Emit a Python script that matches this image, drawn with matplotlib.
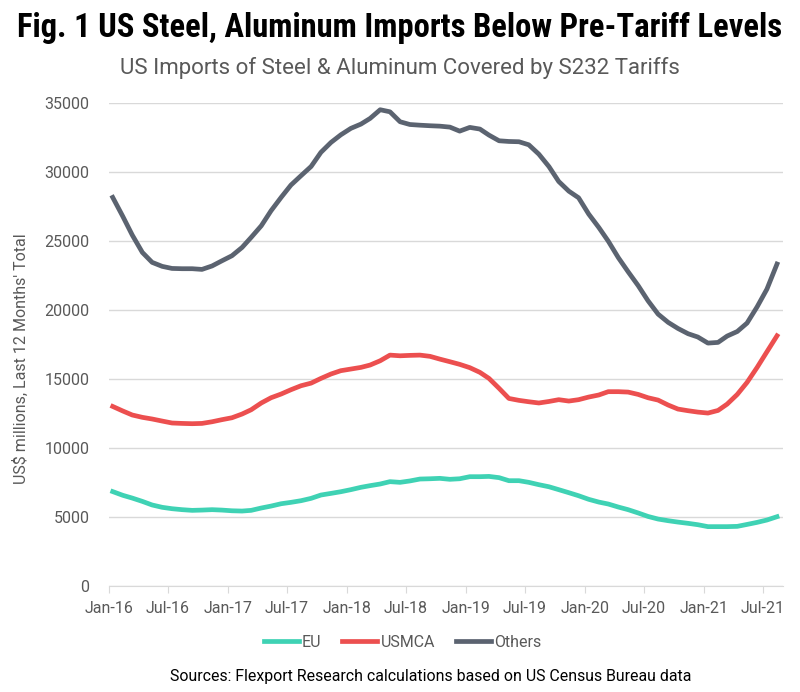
import matplotlib
matplotlib.use("Agg")
import matplotlib.pyplot as plt
import pandas as pd

# monthly values, Jan-16 .. Aug-21 (US$ millions, trailing 12 months)
eu = [6850, 6580, 6380, 6140, 5880, 5710, 5610, 5540, 5490, 5510, 5540, 5510,
      5460, 5440, 5490, 5660, 5800, 5970, 6070, 6190, 6360, 6600, 6720, 6840,
      6990, 7160, 7280, 7400, 7570, 7520, 7620, 7760, 7780, 7810, 7740, 7780,
      7930, 7930, 7950, 7860, 7640, 7640, 7520, 7350, 7200, 6990, 6770, 6550,
      6290, 6090, 5950, 5730, 5540, 5300, 5050, 4860, 4740, 4640, 4550, 4450,
      4310, 4310, 4310, 4330, 4470, 4620, 4790, 5030]
usmca = [13020, 12690, 12400, 12230, 12110, 11960, 11820, 11790, 11770, 11790, 11910, 12060,
         12200, 12470, 12780, 13270, 13650, 13920, 14230, 14520, 14710, 15050, 15370, 15610,
         15730, 15850, 16020, 16330, 16740, 16690, 16720, 16740, 16650, 16450, 16260, 16070,
         15830, 15490, 15050, 14330, 13600, 13460, 13360, 13270, 13380, 13510, 13410, 13510,
         13700, 13850, 14090, 14090, 14060, 13890, 13650, 13480, 13120, 12830, 12710, 12610,
         12540, 12730, 13190, 13890, 14760, 15850, 16980, 18140]
others = [28170, 26790, 25440, 24180, 23460, 23170, 23020, 23000, 23000, 22950, 23200, 23570,
          23940, 24540, 25270, 26110, 27200, 28170, 29060, 29740, 30410, 31430, 32150, 32700,
          33170, 33480, 33890, 34520, 34370, 33650, 33450, 33400, 33360, 33330, 33260, 32970,
          33240, 33120, 32680, 32270, 32220, 32200, 31980, 31300, 30400, 29320, 28620, 28140,
          26960, 25990, 25000, 23800, 22780, 21770, 20680, 19710, 19110, 18670, 18290, 18050,
          17610, 17660, 18120, 18450, 19060, 20240, 21520, 23340]

months = pd.date_range("2016-01-01", periods=len(eu), freq="MS") + pd.Timedelta(days=12)
tick_dates = pd.date_range("2016-01-01", "2021-07-01", freq="6MS")
tick_labels = [d.strftime("%b-%y") for d in tick_dates]

txt = "#595959"
plt.rcParams["font.family"] = ["Roboto", "DejaVu Sans"]

fig = plt.figure(figsize=(8, 6.92), dpi=100)
ax = fig.add_axes([0.136, 0.153, 0.843, 0.698])

ax.plot(months, eu, color="#3fd2b4", lw=3.4, label="EU")
ax.plot(months, usmca, color="#ec4f4f", lw=3.4, label="USMCA")
ax.plot(months, others, color="#5b6370", lw=3.4, label="Others")

ax.set_ylim(0, 35000)
ax.set_yticks(range(0, 35001, 5000))
ax.set_xlim(pd.Timestamp("2016-01-01"), pd.Timestamp("2021-09-01"))
ax.set_xticks(tick_dates)
ax.set_xticklabels(tick_labels)

ax.grid(axis="y", color="#d9d9d9", lw=1)
ax.set_axisbelow(True)
for s in ["top", "right", "left"]:
    ax.spines[s].set_visible(False)
ax.spines["bottom"].set_color("#d9d9d9")
ax.tick_params(axis="y", length=0, labelsize=11.5, labelcolor=txt, pad=14)
ax.tick_params(axis="x", length=5, color="#d9d9d9", labelsize=11.5, labelcolor=txt, pad=6)

ax.set_ylabel("US$ millions, Last 12 Months' Total", fontsize=11.5, color=txt)
ax.yaxis.set_label_coords(-0.118, 0.47)

fig.text(0.5, 0.96, "Fig. 1 US Steel, Aluminum Imports Below Pre-Tariff Levels",
         ha="center", va="center", fontsize=23.5, fontweight="bold", color="black",
         family=["Roboto Condensed", "Roboto", "DejaVu Sans"])
fig.text(0.5, 0.902, "US Imports of Steel & Aluminum Covered by S232 Tariffs",
         ha="center", va="center", fontsize=16, color=txt)

fig.legend(loc="center", bbox_to_anchor=(0.503, 0.072), ncol=3, frameon=False,
           fontsize=11.5, handlelength=2.2, handletextpad=0.2, columnspacing=1.3,
           labelcolor=txt)
fig.text(0.538, 0.0217, "Sources: Flexport Research calculations based on US Census Bureau data",
         ha="center", va="center", fontsize=11.4, color="black")

fig.savefig("out.png", dpi=100)
